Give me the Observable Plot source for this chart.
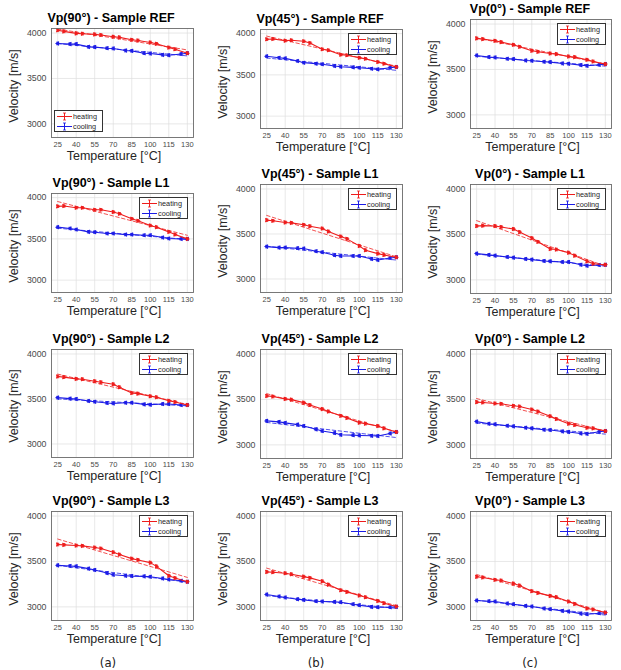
<!DOCTYPE html>
<html><head><meta charset="utf-8">
<script src="https://cdn.jsdelivr.net/npm/d3@7"></script>
<script src="https://cdn.jsdelivr.net/npm/@observablehq/plot@0.6"></script>
<style>
body{margin:0;background:#fff;}
#fig{position:relative;width:621px;height:670px;font-family:"Liberation Sans",Arial,sans-serif;overflow:hidden;background:#fff;}
.panel{position:absolute;}
.panel svg{overflow:visible;}
.title{position:absolute;font-weight:bold;font-size:12.5px;color:#000;white-space:nowrap;transform:translate(-50%,-50%);line-height:1;}
.xl{position:absolute;font-size:12.5px;color:#262626;white-space:nowrap;transform:translate(-50%,-50%);line-height:1;}
.yl{position:absolute;font-size:12.5px;color:#262626;white-space:nowrap;transform:translate(-50%,-50%) rotate(-90deg);line-height:1;}
.leg{position:absolute;border:0.8px solid #333;background:#fff;font-size:7.3px;color:#262626;box-sizing:border-box;padding:1px 2px;line-height:9.5px;}
.leg div{display:flex;align-items:center;white-space:nowrap;}
.leg svg{margin-right:1px;}
.sub{position:absolute;font-family:"Liberation Sans Narrow","DejaVu Sans Condensed",sans-serif;font-stretch:condensed;font-size:13px;color:#222;transform:translate(-50%,-50%);line-height:1;}
</style>
</head><body>
<div id="fig"></div>
<script>
// ---- data ----
const tempsHeating = [25,30,40,45,55,60,70,75,85,90,100,105,115,120,130];
const tempsCooling = [25,35,40,50,55,65,70,80,85,95,100,110,115,125,130];
const xTicks = [25,40,55,70,85,100,115,130];
const yTicks = [3000,3500,4000];
const errorBar = 14;

const heat_90_REF = [4030,4018,3996,3993,3985,3978,3960,3952,3926,3918,3896,3882,3840,3822,3778];
const cool_90_REF = [3885,3878,3878,3848,3845,3833,3830,3807,3804,3778,3774,3760,3755,3770,3778];
const heat_45_REF = [3931,3935,3915,3919,3907,3887,3810,3798,3745,3737,3708,3696,3656,3636,3595];
const cool_45_REF = [3725,3708,3700,3668,3648,3636,3628,3607,3599,3591,3587,3575,3567,3587,3595];
const heat_0_REF  = [3842,3834,3816,3801,3772,3750,3706,3695,3676,3669,3643,3636,3607,3588,3559];
const cool_0_REF  = [3654,3636,3632,3618,3614,3599,3596,3585,3581,3566,3563,3548,3540,3551,3559];

const heat_90_L1 = [3894,3898,3878,3878,3853,3853,3825,3805,3744,3719,3662,3642,3585,3552,3500];
const cool_90_L1 = [3642,3626,3613,3585,3581,3565,3565,3552,3552,3544,3544,3516,3504,3500,3500];
const heat_45_L1 = [3654,3647,3628,3624,3602,3587,3561,3528,3472,3446,3368,3320,3282,3267,3241];
const cool_45_L1 = [3360,3349,3349,3342,3338,3308,3297,3264,3256,3256,3256,3223,3212,3234,3241];
const heat_0_L1  = [3593,3597,3593,3582,3560,3526,3460,3419,3341,3334,3300,3267,3204,3178,3167];
const cool_0_L1  = [3289,3275,3267,3252,3245,3230,3223,3208,3204,3197,3197,3167,3156,3163,3167];

const heat_90_L2 = [3750,3743,3724,3720,3698,3687,3664,3631,3567,3560,3530,3519,3481,3466,3433];
const cool_90_L2 = [3515,3504,3500,3478,3470,3455,3451,3459,3459,3440,3437,3444,3444,3433,3433];
const heat_45_L2 = [3539,3532,3506,3498,3465,3439,3394,3368,3320,3297,3245,3234,3208,3182,3141];
const cool_45_L2 = [3264,3253,3242,3223,3208,3171,3152,3130,3111,3107,3104,3100,3097,3126,3141];
const heat_0_L2  = [3471,3467,3456,3452,3430,3422,3389,3367,3315,3285,3233,3219,3189,3182,3152];
const cool_0_L2  = [3256,3233,3226,3211,3204,3189,3182,3167,3163,3148,3141,3126,3122,3144,3152];

const heat_90_L3 = [3686,3683,3675,3672,3653,3642,3601,3576,3531,3517,3487,3446,3343,3317,3277];
const cool_90_L3 = [3457,3450,3446,3421,3406,3372,3354,3343,3339,3336,3332,3313,3302,3288,3277];
const heat_45_L3 = [3385,3381,3370,3359,3333,3319,3282,3245,3183,3165,3125,3106,3066,3040,3004];
const cool_45_L3 = [3136,3114,3103,3084,3077,3062,3059,3055,3051,3029,3018,3000,2996,2996,3000];
const heat_0_L3  = [3331,3324,3298,3290,3257,3235,3173,3154,3121,3107,3059,3033,2982,2971,2938];
const cool_0_L3  = [3070,3062,3059,3037,3029,3011,3004,2982,2974,2956,2949,2926,2919,2930,2934];

const angles = ["90","45","0"];
const samples = ["REF","L1","L2","L3"];
const seriesNames = ["heating","cooling"];
const subLabels = ["(a)","(b)","(c)"];
const heatingTable = {
  "90_REF":heat_90_REF,"45_REF":heat_45_REF,"0_REF":heat_0_REF,
  "90_L1":heat_90_L1,"45_L1":heat_45_L1,"0_L1":heat_0_L1,
  "90_L2":heat_90_L2,"45_L2":heat_45_L2,"0_L2":heat_0_L2,
  "90_L3":heat_90_L3,"45_L3":heat_45_L3,"0_L3":heat_0_L3};
const coolingTable = {
  "90_REF":cool_90_REF,"45_REF":cool_45_REF,"0_REF":cool_0_REF,
  "90_L1":cool_90_L1,"45_L1":cool_45_L1,"0_L1":cool_0_L1,
  "90_L2":cool_90_L2,"45_L2":cool_45_L2,"0_L2":cool_0_L2,
  "90_L3":cool_90_L3,"45_L3":cool_45_L3,"0_L3":cool_0_L3};

// ---- layout ----
const colX = [[51,193],[260,402],[470,611]];
const frameY = [
  [[28,137],[29,128],[19,128]],
  [[193,292],[184,292],[184,293]],
  [[349,457],[349,458],[349,458]],
  [[511,620],[511,620],[511,620]]
];
const titleX = [111,320,530];
const subX = [108,316,530];
const RED = "#ee1c1c", BLUE = "#1c1ce6";
const ML = 45, MR = 6, MT = 6, MB = 24;

const fig = document.getElementById("fig");

function legendIcon(color){
  return `<svg width="15" height="9" viewBox="0 0 15 9"><line x1="0" y1="4.5" x2="15" y2="4.5" stroke="${color}" stroke-width="1"/><line x1="7.5" y1="1" x2="7.5" y2="8" stroke="${color}" stroke-width="1"/><line x1="6" y1="1" x2="9" y2="1" stroke="${color}" stroke-width="0.8"/><line x1="6" y1="8" x2="9" y2="8" stroke="${color}" stroke-width="0.8"/></svg>`;
}

samples.forEach((s, r) => {
  angles.forEach((a, c) => {
    const key = `${a}_${s}`;
    const heat = tempsHeating.map((t,i)=>({t, v: heatingTable[key][i]}));
    const cool = tempsCooling.map((t,i)=>({t, v: coolingTable[key][i]}));
    const [fx0, fx1] = colX[c];
    const [fy0, fy1] = frameY[r][c];
    const fw = fx1 - fx0, fh = fy1 - fy0;

    const seriesMarks = (data, color, rot) => [
      Plot.linearRegressionY(data, {x:"t", y:"v", stroke:color, strokeWidth:0.9, strokeDasharray:"3.5,2.5", strokeOpacity:0.85, ci:0}),
      Plot.line(data, {x:"t", y:"v", stroke:color, strokeWidth:1.1}),
      Plot.ruleX(data, {x:"t", y1:d=>d.v-errorBar, y2:d=>d.v+errorBar, stroke:color, strokeWidth:0.9}),
      Plot.link(data, {x1:d=>d.t-1.3, x2:d=>d.t+1.3, y1:d=>d.v+errorBar, y2:d=>d.v+errorBar, stroke:color, strokeWidth:0.8}),
      Plot.link(data, {x1:d=>d.t-1.3, x2:d=>d.t+1.3, y1:d=>d.v-errorBar, y2:d=>d.v-errorBar, stroke:color, strokeWidth:0.8}),
      Plot.dot(data, {x:"t", y:"v", symbol:"triangle", rotate:rot, r:1.7, fill:color, stroke:null})
    ];

    const plot = Plot.plot({
      width: fw + ML + MR, height: fh + MT + MB,
      marginLeft: ML, marginRight: MR, marginTop: MT, marginBottom: MB,
      style: {fontFamily:"'Liberation Sans', Arial, sans-serif", background:"transparent", overflow:"visible"},
      x: {domain:[20,135], label:null},
      y: {domain:[2850,4050], label:null},
      marks: [
        Plot.gridX(xTicks, {stroke:"#dedede", strokeOpacity:1, strokeWidth:0.7}),
        Plot.gridY(yTicks, {stroke:"#dedede", strokeOpacity:1, strokeWidth:0.7}),
        Plot.axisX(xTicks, {tickSize:0, tickPadding:4, fontSize:7.5, fill:"#4a4a4a", label:null, tickFormat:d3.format("d")}),
        Plot.axisY(yTicks, {tickSize:0, tickPadding:5, fontSize:8.8, fill:"#4a4a4a", label:null, tickFormat:d3.format("d")}),
        ...seriesMarks(cool, BLUE, -90),
        ...seriesMarks(heat, RED, 90),
        Plot.frame({stroke:"#6a6a6a", strokeWidth:0.9})
      ]
    });
    const wrap = document.createElement("div");
    wrap.className = "panel";
    wrap.style.left = (fx0 - ML) + "px";
    wrap.style.top = (fy0 - MT) + "px";
    wrap.appendChild(plot);
    fig.appendChild(wrap);

    const title = document.createElement("div");
    title.className = "title";
    title.style.left = titleX[c] + "px";
    title.style.top = (fy0 - 10) + "px";
    title.textContent = `Vp(${a}°) - Sample ${s}`;
    fig.appendChild(title);

    const xl = document.createElement("div");
    xl.className = "xl";
    xl.style.left = ((fx0+fx1)/2 - 8) + "px";
    xl.style.top = (fy1 + 19) + "px";
    xl.textContent = "Temperature [°C]";
    fig.appendChild(xl);

    const yl = document.createElement("div");
    yl.className = "yl";
    yl.style.left = (fx0 - 37) + "px";
    yl.style.top = ((fy0+fy1)/2 + 3) + "px";
    yl.textContent = "Velocity [m/s]";
    fig.appendChild(yl);

    const leg = document.createElement("div");
    leg.className = "leg";
    const lw = 49, lh = 22;
    leg.style.width = lw + "px";
    leg.style.height = lh + "px";
    if (r === 0 && c === 0) {
      leg.style.left = (fx0 + 3) + "px";
      leg.style.top = (fy1 - lh - 5) + "px";
    } else {
      leg.style.left = (fx1 - lw - 5) + "px";
      leg.style.top = (fy0 + 4) + "px";
    }
    leg.innerHTML = `<div>${legendIcon(RED)}${seriesNames[0]}</div><div>${legendIcon(BLUE)}${seriesNames[1]}</div>`;
    fig.appendChild(leg);
  });
});

subLabels.forEach((t, c) => {
  const d = document.createElement("div");
  d.className = "sub";
  d.style.left = subX[c] + "px";
  d.style.top = "662px";
  d.textContent = t;
  fig.appendChild(d);
});
</script>
</body></html>
